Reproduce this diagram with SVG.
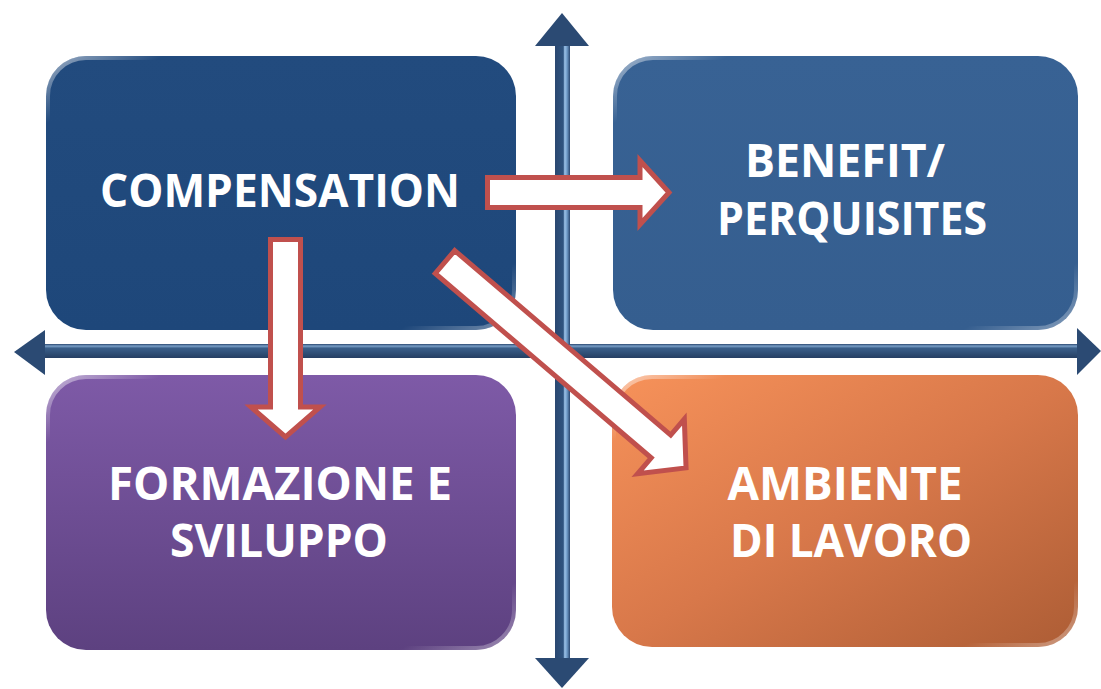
<svg xmlns="http://www.w3.org/2000/svg" width="1101" height="689" viewBox="0 0 1101 689">
<defs>
<style>
.lbl{font-family:"Open Sans","Liberation Sans",sans-serif;font-weight:bold;font-size:46px;fill:#ffffff;text-anchor:middle}
.redarrow{fill:#ffffff;stroke:#c0504d;stroke-width:5;stroke-linejoin:miter}
.axhead{fill:#2b4a73}
.edge{fill:none;stroke-width:4}
</style>
<linearGradient id="vshaft" x1="0" y1="0" x2="1" y2="0">
<stop offset="0" stop-color="#2a4770"/>
<stop offset="0.55" stop-color="#2f5480"/>
<stop offset="0.65" stop-color="#9cc2e8"/>
<stop offset="0.8" stop-color="#6f9bc8"/>
<stop offset="1" stop-color="#2a4770"/>
</linearGradient>
<linearGradient id="hshaft" x1="0" y1="0" x2="0" y2="1">
<stop offset="0" stop-color="#2a4770"/>
<stop offset="0.15" stop-color="#7aa0c8"/>
<stop offset="0.3" stop-color="#3a5f8a"/>
<stop offset="1" stop-color="#253f63"/>
</linearGradient>
<linearGradient id="gTL" x1="0" y1="0" x2="0" y2="1">
<stop offset="0" stop-color="#224b7e"/>
<stop offset="1" stop-color="#1e477a"/>
</linearGradient>
<linearGradient id="gTR" x1="0" y1="0" x2="0" y2="1">
<stop offset="0" stop-color="#386294"/>
<stop offset="1" stop-color="#355e8f"/>
</linearGradient>
<linearGradient id="gBL" x1="0" y1="0" x2="0" y2="1">
<stop offset="0" stop-color="#7e5aa7"/>
<stop offset="1" stop-color="#5d4180"/>
</linearGradient>
<linearGradient id="gBR" x1="0" y1="0" x2="1" y2="1">
<stop offset="0" stop-color="#f7925a"/>
<stop offset="0.5" stop-color="#d8784a"/>
<stop offset="1" stop-color="#ad5d35"/>
</linearGradient>
<linearGradient id="gEdge" x1="0" y1="0" x2="1" y2="1">
<stop offset="0" stop-color="#ffffff" stop-opacity="0.55"/>
<stop offset="0.12" stop-color="#ffffff" stop-opacity="0"/>
<stop offset="0.88" stop-color="#ffffff" stop-opacity="0"/>
<stop offset="1" stop-color="#ffffff" stop-opacity="0.4"/>
</linearGradient>
</defs>
<rect width="1101" height="689" fill="#ffffff"/>
<g id="axes">
<rect x="555" y="40" width="15" height="622" fill="url(#vshaft)"/>
<polygon class="axhead" points="562,13 535,46 589,46"/>
<polygon class="axhead" points="535,658 589,658 562,688"/>
<rect x="40" y="344" width="1042" height="14" fill="url(#hshaft)"/>
<polygon class="axhead" points="14,352 45,330 45,375"/>
<polygon class="axhead" points="1077,328 1077,375 1101,351"/>
</g>
<g id="node-compensation">
<rect x="46" y="56" width="470" height="274" rx="40" fill="url(#gTL)"/>
<rect x="48" y="58" width="466" height="270" rx="38" class="edge" stroke="url(#gEdge)"/>
<text class="lbl" x="280" y="207" textLength="360" lengthAdjust="spacingAndGlyphs">COMPENSATION</text>
</g>
<g id="node-benefit">
<rect x="613" y="56" width="465" height="274" rx="40" fill="url(#gTR)"/>
<rect x="615" y="58" width="461" height="270" rx="38" class="edge" stroke="url(#gEdge)"/>
<text class="lbl" x="845" y="177" textLength="200" lengthAdjust="spacingAndGlyphs">BENEFIT/</text>
<text class="lbl" x="852" y="235" textLength="270" lengthAdjust="spacingAndGlyphs">PERQUISITES</text>
</g>
<g id="node-formazione">
<rect x="46" y="375" width="470" height="275" rx="40" fill="url(#gBL)"/>
<rect x="48" y="377" width="466" height="271" rx="38" class="edge" stroke="url(#gEdge)"/>
<text class="lbl" x="280" y="500" textLength="344" lengthAdjust="spacingAndGlyphs">FORMAZIONE E</text>
<text class="lbl" x="279" y="557" textLength="218" lengthAdjust="spacingAndGlyphs">SVILUPPO</text>
</g>
<g id="node-ambiente">
<rect x="612" y="375" width="466" height="272" rx="40" fill="url(#gBR)"/>
<rect x="614" y="377" width="462" height="268" rx="38" class="edge" stroke="url(#gEdge)"/>
<text class="lbl" x="845" y="500" textLength="235" lengthAdjust="spacingAndGlyphs">AMBIENTE</text>
<text class="lbl" x="851" y="557" textLength="242" lengthAdjust="spacingAndGlyphs">DI LAVORO</text>
</g>
<g id="connectors">
<path class="redarrow" d="M487.5,177.5 H640 V160.5 L669,192.5 L640,224.5 V207.5 H487.5 Z"/>
<path class="redarrow" d="M270.5,239.5 H300.5 V407 H320 L285.5,437 L251,407 H270.5 Z"/>
<path class="redarrow" transform="translate(445,262) rotate(40.5)" d="M0,-15 H284 V-36 L317,0 L284,36 V15 H0 Z"/>
</g>
</svg>
